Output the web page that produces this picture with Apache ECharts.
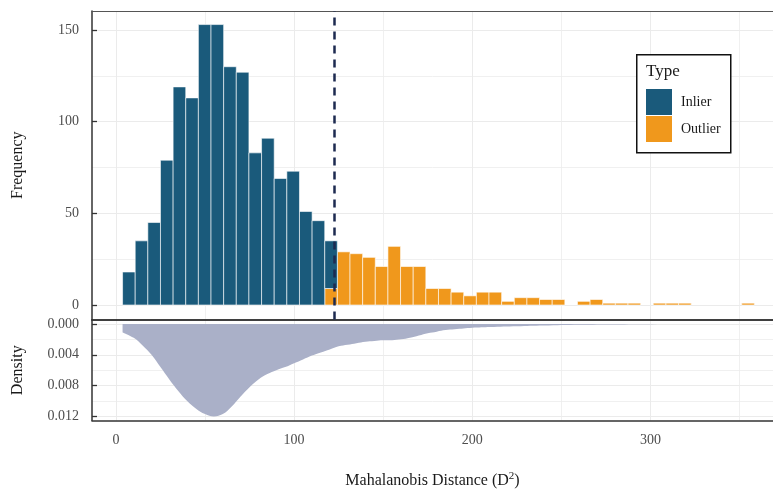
<!DOCTYPE html>
<html><head><meta charset="utf-8">
<script src="https://cdn.jsdelivr.net/npm/echarts@6/dist/echarts.min.js"></script>
<style>html,body{margin:0;padding:0;background:#fff}#c{width:773px;height:490px}</style>
</head><body><div id="c"></div>
<script>
// ---- data ----
const binStart = 3.75;
const binWidth = 7.09;
const inlierCounts = [18,35,45,79,119,113,153,153,130,127,83,91,69,73,51,46,26,0,0,0,0,0,0,0,0,0,0,0,0,0,0,0,0,0,0,0,0,0,0,0,0,0,0,0,0,0,0,0,0,0];
const outlierCounts = [0,0,0,0,0,0,0,0,0,0,0,0,0,0,0,0,9,29,28,26,21,32,21,21,9,9,7,5,7,7,2,4,4,3,3,0,2,3,1,1,1,0,1,1,1,0,0,0,0,1];
const densityX = [3.75,10,15,20,25,30,35,40,45,50,55,60,65,70,75,80,85,90,95,100,105,110,115,120,125,130,135,140,145,150,155,160,165,170,175,180,185,190,200,210,225,240,260,280,300,330,357];
const densityY = [0.0011,0.0018,0.0028,0.0040,0.0056,0.0072,0.0087,0.0100,0.0110,0.0117,0.0120,0.0117,0.0107,0.0094,0.0082,0.0072,0.0065,0.0060,0.0056,0.0051,0.0046,0.0041,0.0037,0.0033,0.0029,0.0027,0.0025,0.0023,0.0022,0.0021,0.0021,0.0020,0.0018,0.0015,0.0012,0.0010,0.0008,0.0007,0.0005,0.0004,0.0003,0.0002,0.0001,0.00006,0.00003,0.00002,0.00001];
const threshold = 122.7;
const seriesNames = ['Inlier','Outlier'];
const legendTitle = 'Type';

// ---- build ----
const FONT = 'Liberation Serif';
const X_MIN = -13.4, X_MAX = 368.7;
const Y_MIN = -7.91, Y_MAX = 160.4;
const D_MIN = -0.000513, D_MAX = 0.01253;
const outData = [], inData = [];
for (let i = 0; i < inlierCounts.length; i++) {
  const x0 = binStart + i * binWidth, x1 = x0 + binWidth;
  outData.push([x0, x1, 0, outlierCounts[i]]);
  inData.push([x0, x1, outlierCounts[i], outlierCounts[i] + inlierCounts[i]]);
}
const densData = densityX.map((x, i) => [x, densityY[i]]);

function renderBar(params, api) {
  const x0 = api.value(0), x1 = api.value(1), y0 = api.value(2), y1 = api.value(3);
  if (!(y1 > y0)) return null;
  const p0 = api.coord([x0, y1]);
  const p1 = api.coord([x1, y0]);
  return {type: 'rect', shape: {x: p0[0], y: p0[1], width: p1[0] - p0[0], height: p1[1] - p0[1]},
          style: {fill: api.visual('color'), stroke: '#ffffff', lineWidth: 0.6}};
}

const gridLine = {show: true, showMinLine: false, showMaxLine: false, lineStyle: {color: '#e4e4e4', width: 1}};
const minorLine = {show: true, showMinLine: false, showMaxLine: false, lineStyle: {color: '#ececec', width: 0.8}};
const lblStyle = {fontFamily: FONT, fontSize: 14, color: '#4d4d4d'};
const nameStyle = {fontFamily: FONT, fontSize: 16, color: '#1a1a1a'};

const chart = echarts.init(document.getElementById('c'), null, {renderer: 'canvas'});
chart.setOption({
  animation: false,
  backgroundColor: '#ffffff',
  grid: [
    {left: 92, top: 11, width: 682, height: 308.5},
    {left: 92, top: 320, width: 682, height: 101.7}
  ],
  xAxis: [
    {gridIndex: 0, type: 'value', min: X_MIN, max: X_MAX, position: 'bottom', minInterval: 100, maxInterval: 100,
     axisLine: {show: true, onZero: false, lineStyle: {color: '#333', width: 1.5}}, axisTick: {show: false}, axisLabel: {show: false},
     splitLine: gridLine},
    {gridIndex: 0, type: 'value', min: X_MIN, max: X_MAX, position: 'top', minInterval: 50, maxInterval: 50,
     axisLine: {show: true, onZero: false, lineStyle: {color: '#555', width: 1.2}}, axisTick: {show: false}, axisLabel: {show: false},
     splitLine: minorLine},
    {gridIndex: 1, type: 'value', min: X_MIN, max: X_MAX, position: 'bottom', minInterval: 100, maxInterval: 100,
     axisLine: {show: true, onZero: false, lineStyle: {color: '#333', width: 1.5}}, axisTick: {show: false},
     axisLabel: Object.assign({margin: 13, showMinLabel: false, showMaxLabel: false,
       formatter: v => (Math.abs(v % 100) < 1e-9 ? String(v) : '')}, lblStyle),
     splitLine: gridLine,
     name: 'Mahalanobis Distance (D{sup|2})', nameLocation: 'middle', nameGap: 50,
     nameTextStyle: Object.assign({rich: {sup: {fontFamily: FONT, fontSize: 11, color: '#1a1a1a', verticalAlign: 'top', padding: [0, 0, 10, 0]}}}, nameStyle)},
    {gridIndex: 1, type: 'value', min: X_MIN, max: X_MAX, position: 'top', minInterval: 50, maxInterval: 50,
     axisLine: {show: true, onZero: false, lineStyle: {color: '#333', width: 1.5}}, axisTick: {show: false}, axisLabel: {show: false},
     splitLine: minorLine}
  ],
  yAxis: [
    {gridIndex: 0, type: 'value', min: Y_MIN, max: Y_MAX, minInterval: 50, maxInterval: 50,
     axisLine: {show: true, onZero: false, lineStyle: {color: '#333', width: 1.5}},
     axisTick: {show: true, inside: true, length: 5, lineStyle: {color: '#333', width: 1.3}},
     axisLabel: Object.assign({margin: 13, showMinLabel: false, showMaxLabel: false,
       formatter: v => (Math.abs(v % 50) < 1e-9 ? String(v) : '')}, lblStyle),
     splitLine: gridLine,
     name: 'Frequency', nameLocation: 'middle', nameGap: 66, nameTextStyle: nameStyle},
    {gridIndex: 0, type: 'value', min: Y_MIN, max: Y_MAX, position: 'right', minInterval: 25, maxInterval: 25,
     axisLine: {show: false}, axisTick: {show: false}, axisLabel: {show: false}, splitLine: minorLine},
    {gridIndex: 1, type: 'value', inverse: true, min: D_MIN, max: D_MAX, minInterval: 0.004, maxInterval: 0.004,
     axisLine: {show: true, onZero: false, lineStyle: {color: '#333', width: 1.5}},
     axisTick: {show: true, inside: true, length: 5, lineStyle: {color: '#333', width: 1.3}},
     axisLabel: Object.assign({margin: 13, showMinLabel: false, showMaxLabel: false,
       formatter: v => (v < -1e-9 ? '' : Math.abs(v).toFixed(3))}, lblStyle),
     splitLine: gridLine,
     name: 'Density', nameLocation: 'middle', nameGap: 66, nameTextStyle: nameStyle},
    {gridIndex: 1, type: 'value', inverse: true, min: D_MIN, max: D_MAX, position: 'right', minInterval: 0.002, maxInterval: 0.002,
     axisLine: {show: false}, axisTick: {show: false}, axisLabel: {show: false}, splitLine: minorLine}
  ],
  legend: {
    orient: 'vertical', left: 646, top: 89, padding: 0, itemWidth: 26, itemHeight: 26, itemGap: 1,
    icon: 'rect', data: seriesNames, selectedMode: false, z: 6,
    textStyle: {fontFamily: FONT, fontSize: 14, color: '#1a1a1a', padding: [0, 0, 0, 4]}
  },
  graphic: [
    {type: 'rect', left: 636, top: 54, z: 5, shape: {width: 94, height: 98},
     style: {fill: '#ffffff', stroke: '#111111', lineWidth: 1.5}},
    {type: 'text', left: 646, top: 63, z: 6,
     style: {text: legendTitle, fontFamily: FONT, fontSize: 17, fill: '#1a1a1a'}}
  ],
  series: [
    {name: seriesNames[1], type: 'custom', xAxisIndex: 0, yAxisIndex: 0, renderItem: renderBar,
     itemStyle: {color: '#f0981c'}, encode: {x: [0, 1], y: [2, 3]}, data: outData},
    {name: seriesNames[0], type: 'custom', xAxisIndex: 0, yAxisIndex: 0, renderItem: renderBar,
     itemStyle: {color: '#1a5a7b'}, encode: {x: [0, 1], y: [2, 3]}, data: inData,
     markLine: {silent: true, symbol: 'none', label: {show: false},
       lineStyle: {color: '#1d2a50', width: 2.5, type: [8, 6]}, data: [{xAxis: threshold}]}},
    {name: 'Density', type: 'line', xAxisIndex: 2, yAxisIndex: 2, data: densData, smooth: 0.4,
     symbol: 'none', lineStyle: {width: 0}, areaStyle: {color: '#aab0c8', opacity: 1}}
  ]
});
</script></body></html>
